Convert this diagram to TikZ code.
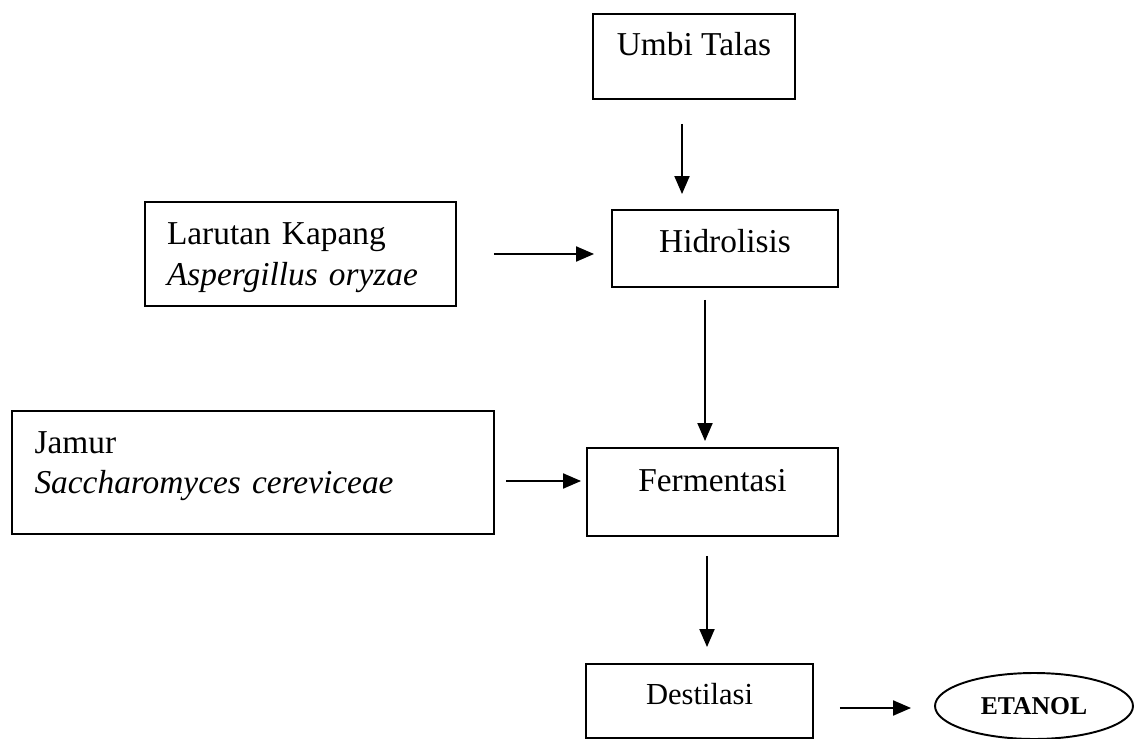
\documentclass[tikz,border=0pt]{standalone}
\usepackage{fontspec}
\setmainfont{Liberation Serif}
\usetikzlibrary{arrows.meta,shapes.geometric}
\begin{document}
\begin{tikzpicture}[x=0.02cm,y=-0.02cm,
  box/.style={draw, line width=1.1pt, inner sep=0pt, font=\fontsize{19}{22.8}\selectfont},
  flow/.style={line width=1.1pt, -{Triangle[length=0.36cm,width=0.3cm]}}]
  \useasboundingbox (0,0) rectangle (1135,739);
  \node[box, minimum width=4.04cm, text height=0.84cm, text depth=0.86cm] (umbi) at (694,56.5) {Umbi Talas};
  \node[box, minimum width=4.52cm, text height=0.86cm, text depth=0.68cm] (hidro) at (725,248.5) {Hidrolisis};
  \node[box, text width=5.34cm, inner xsep=0.44cm, align=left, text height=0.86cm, text depth=1.22cm]
    (kapang) at (300.5,254) {Larutan Kapang\\\textit{Aspergillus oryzae}};
  \node[box, text width=8.74cm, inner xsep=0.46cm, align=left, text height=0.84cm, text depth=1.62cm]
    (jamur) at (253,472.5) {Jamur\\\textit{Saccharomyces cereviceae}};
  \node[box, minimum width=5.02cm, text height=0.86cm, text depth=0.90cm] (ferm) at (712.5,492) {Fermentasi};
  \node[box, minimum width=4.54cm, text height=0.80cm, text depth=0.68cm,
    font=\fontsize{17.4}{20}\selectfont] (desti) at (699.5,701) {Destilasi};
  \node[draw, ellipse, line width=1.1pt, inner sep=0pt, minimum width=3.96cm, minimum height=1.32cm,
    font=\fontsize{14.6}{17}\selectfont\bfseries] (etanol) at (1034,706) {ETANOL};
  \draw[flow, shorten <=0.48cm, shorten >=0.30cm] (umbi.south -| 682,0) -- (hidro.north -| 682,0);
  \draw[flow, shorten <=0.74cm, shorten >=0.34cm] (kapang.east) -- (kapang.east -| hidro.west);
  \draw[flow, shorten <=0.24cm, shorten >=0.12cm] (hidro.south -| 705,0) -- (ferm.north -| 705,0);
  \draw[flow, shorten <=0.22cm, shorten >=0.10cm] (jamur.east |- 0,481) -- (ferm.west |- 0,481);
  \draw[flow, shorten <=0.38cm, shorten >=0.32cm] (ferm.south -| 707,0) -- (desti.north -| 707,0);
  \draw[flow, shorten <=0.52cm, shorten >=0.46cm] (desti.east |- 0,708) -- (etanol.west |- 0,708);
\end{tikzpicture}
\end{document}
